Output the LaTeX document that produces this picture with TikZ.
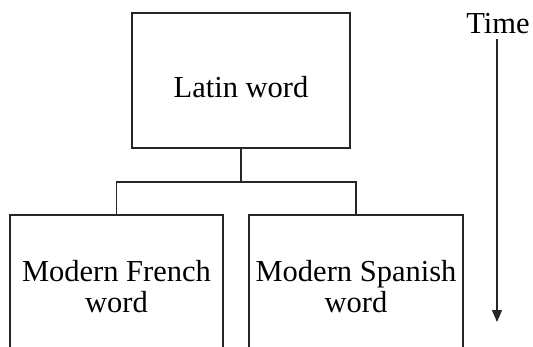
\documentclass[tikz,border=0pt]{standalone}
\usepackage{fontspec}
\setmainfont{Liberation Serif}
\usetikzlibrary{arrows.meta}
\begin{document}
\begin{tikzpicture}[x=1pt,y=-1pt,
  every node/.style={font=\fontsize{30.5}{31}\selectfont, inner sep=0pt},
  wordbox/.style={draw=black!85, line width=1.1pt, align=center},
  conn/.style={draw=black!85, line width=1.1pt},
  timearrow/.style={draw=black!85, line width=1.1pt, -{Triangle[width=10pt,length=12pt]}}]
\clip (0,0) rectangle (533,346);
\fill[white] (0,0) rectangle (533,346);
% boxes
\node[wordbox, minimum width=218pt, minimum height=135pt, text height=33pt, text depth=0pt]
  (latin) at (241,80.5) {Latin word};
\node[wordbox, minimum width=213pt, minimum height=144pt] (french) at (116.5,287) {Modern French\\word};
\node[wordbox, minimum width=214pt, minimum height=144pt] (spanish) at (356,287) {Modern Spanish\\word};
% connectors
\coordinate (junc) at (241,182);
\draw[conn] (latin.south) -- (junc);
\draw[conn] (french.north) |- (junc) -| (spanish.north);
% time
\node[anchor=base] (time) at (498,33) {Time};
\coordinate (tend) at (497,322);
\draw[timearrow] (497,39) -- (tend);
\end{tikzpicture}
\end{document}
